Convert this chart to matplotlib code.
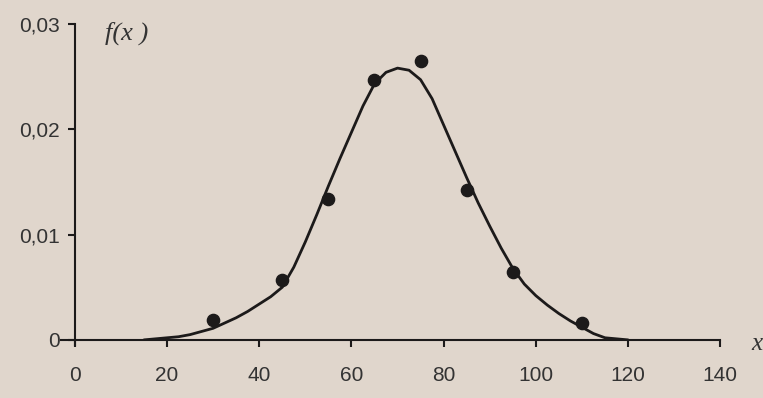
import matplotlib.pyplot as plt

# observed points (x, f(x))
pts_x = [30, 45, 55, 65, 75, 85, 95, 110]
pts_y = [0.0019, 0.0057, 0.0134, 0.0247, 0.0265, 0.0142, 0.0064, 0.0016]

# fitted density curve
curve_x = [15, 17.5, 20, 22.5, 25, 27.5, 30, 32.5, 35, 37.5, 40, 42.5, 45, 47.5,
           50, 52.5, 55, 57.5, 60, 62.5, 65, 67.5, 70, 72.5, 75, 77.5, 80, 82.5,
           85, 87.5, 90, 92.5, 95, 97.5, 100, 102.5, 105, 107.5, 110, 112.5,
           115, 117.5, 120]
curve_y = [0.0, 0.0001, 0.0002, 0.0003, 0.0005, 0.0008, 0.0011, 0.0016, 0.0021,
           0.0027, 0.0034, 0.0041, 0.0050, 0.0069, 0.0093, 0.0119, 0.0146, 0.0172,
           0.0197, 0.0222, 0.0243, 0.0254, 0.0258, 0.0256, 0.0247, 0.0229, 0.0204,
           0.0179, 0.0154, 0.0130, 0.0108, 0.0087, 0.0068, 0.0053, 0.0042, 0.0033,
           0.0025, 0.0018, 0.0012, 0.0006, 0.0002, 0.0001, 0.0]

xticks = [0, 20, 40, 60, 80, 100, 120, 140]
yticks = [0, 0.01, 0.02, 0.03]
ytick_labels = ["0", "0,01", "0,02", "0,03"]

bg = "#e0d6cc"
ink = "#1c1a1a"

fig = plt.figure(figsize=(7.63, 3.98), dpi=100, facecolor=bg)
ax = fig.add_axes([0.098, 0.146, 0.846, 0.794], facecolor=bg)

ax.plot(curve_x, curve_y, color=ink, lw=2.0, solid_joinstyle="round",
        solid_capstyle="round")
ax.plot(pts_x, pts_y, "o", color=ink, markersize=8.8)

ax.set_xlim(0, 140)
ax.set_ylim(0, 0.03)
ax.set_xticks(xticks)
ax.set_yticks(yticks)
ax.set_yticklabels(ytick_labels)

for s in ["top", "right"]:
    ax.spines[s].set_visible(False)
for s in ["left", "bottom"]:
    ax.spines[s].set_linewidth(1.5)
    ax.spines[s].set_color(ink)
ax.spines["bottom"].set_bounds(-3, 140)
ax.spines["left"].set_bounds(-0.0005, 0.03)
ax.spines["bottom"].set_clip_on(False)

ax.tick_params(axis="x", direction="out", length=5, width=1.5, color=ink,
               pad=14, labelsize=15, labelcolor="#333333")
ax.tick_params(axis="y", direction="out", length=5, width=1.5, color=ink,
               pad=6, labelsize=15, labelcolor="#333333")
for lab in ax.get_xticklabels() + ax.get_yticklabels():
    lab.set_family("Liberation Sans")

ax.text(0.047, 0.97, "f(x )", transform=ax.transAxes, ha="left", va="center",
        fontsize=19, family="Liberation Serif", style="italic", color="#333333")
fig.text(0.985, 0.135, "x", ha="left", va="center", fontsize=18,
         family="Liberation Serif", style="italic", color="#333333")

fig.savefig("out.png", dpi=100, facecolor=bg)
